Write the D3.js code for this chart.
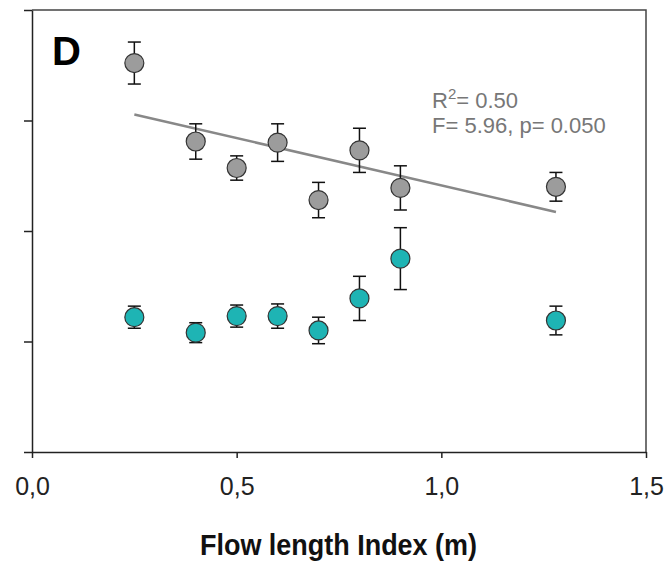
<!DOCTYPE html>
<html>
<head>
<meta charset="utf-8">
<script src="https://cdn.jsdelivr.net/npm/d3@7"></script>
<style>
  body { margin: 0; background: #fff; }
  text { font-family: "Liberation Sans", Arial, sans-serif; }
</style>
</head>
<body>
<svg id="chart"></svg>
<script>
// flow length index (m)
const flowLength = [0.25, 0.4, 0.5, 0.6, 0.7, 0.8, 0.9, 1.28];

// grey series (with fitted line)
const greyMean = [3.52, 2.81, 2.57, 2.8, 2.28, 2.73, 2.39, 2.4];
const greyErr = [0.19, 0.16, 0.11, 0.17, 0.16, 0.2, 0.2, 0.13];

// cyan series
const cyanMean = [1.22, 1.08, 1.23, 1.23, 1.1, 1.39, 1.75, 1.19];
const cyanErr = [0.1, 0.09, 0.1, 0.11, 0.12, 0.2, 0.28, 0.13];

const xTicks = [0, 0.5, 1.0, 1.5];
const yTicks = [0, 1, 2, 3, 4];

const W = 666, H = 563;
const plotLeft = 32, plotRight = 646, plotTop = 10, plotBottom = 452;

const svg = d3.select("#chart").attr("width", W).attr("height", H);
svg.append("rect").attr("width", W).attr("height", H).attr("fill", "#fff");

const xScale = d3.scaleLinear().domain([0, 1.5]).range([plotLeft, plotRight]);
const yScale = d3.scaleLinear().domain([0, 4]).range([plotBottom, plotTop]);

// frame top + right
svg.append("path")
  .attr("d", `M${plotLeft},${plotTop}H${plotRight}V${plotBottom}`)
  .attr("fill", "none")
  .attr("stroke", "#444")
  .attr("stroke-width", 1.5);

// y axis, no labels
const yAxis = svg.append("g")
  .attr("transform", `translate(${plotLeft},0)`)
  .call(d3.axisLeft(yScale).tickValues(yTicks).tickSize(8).tickSizeOuter(0).tickFormat(""));
yAxis.selectAll("path, line").attr("stroke", "#222").attr("stroke-width", 1.5);

// x axis
const fmt = (d) => d3.format(".1f")(d).replace(".", ",");
const xAxis = svg.append("g")
  .attr("transform", `translate(0,${plotBottom})`)
  .call(d3.axisBottom(xScale).tickValues(xTicks).tickSize(6).tickSizeOuter(0).tickFormat(fmt));
xAxis.selectAll("path, line").attr("stroke", "#222").attr("stroke-width", 1.5);
xAxis.selectAll("text")
  .attr("y", 43).attr("dy", 0)
  .attr("font-size", 25)
  .attr("fill", "#222")
  .style("font-family", "'Liberation Sans', Arial, sans-serif");

// linear fit of grey series
const mx = d3.mean(flowLength);
const my = d3.mean(greyMean);
const sxy = d3.sum(flowLength, (d, i) => (d - mx) * (greyMean[i] - my));
const sxx = d3.sum(flowLength, (d) => (d - mx) * (d - mx));
const slope = sxy / sxx;
const icpt = my - slope * mx;
const fitX = d3.extent(flowLength);

const line = d3.line()
  .x((d) => xScale(d))
  .y((d) => yScale(icpt + slope * d));

svg.append("path")
  .datum(fitX)
  .attr("d", line)
  .attr("fill", "none")
  .attr("stroke", "#888")
  .attr("stroke-width", 2.5);

const drawSeries = (means, errs, fill) => {
  const pts = flowLength.map((x, i) => ({ x: x, m: means[i], e: errs[i] }));
  const g = svg.append("g");
  const bars = g.selectAll(".eb").data(pts).enter().append("g")
    .attr("stroke", "#111").attr("stroke-width", 1.5);
  bars.append("line")
    .attr("x1", (d) => xScale(d.x)).attr("x2", (d) => xScale(d.x))
    .attr("y1", (d) => yScale(d.m - d.e)).attr("y2", (d) => yScale(d.m + d.e));
  bars.append("line")
    .attr("x1", (d) => xScale(d.x) - 6.5).attr("x2", (d) => xScale(d.x) + 6.5)
    .attr("y1", (d) => yScale(d.m + d.e)).attr("y2", (d) => yScale(d.m + d.e));
  bars.append("line")
    .attr("x1", (d) => xScale(d.x) - 6.5).attr("x2", (d) => xScale(d.x) + 6.5)
    .attr("y1", (d) => yScale(d.m - d.e)).attr("y2", (d) => yScale(d.m - d.e));
  g.selectAll("circle").data(pts).enter().append("circle")
    .attr("cx", (d) => xScale(d.x))
    .attr("cy", (d) => yScale(d.m))
    .attr("r", 9.5)
    .attr("fill", fill)
    .attr("stroke", "#333")
    .attr("stroke-width", 1.2);
};

drawSeries(greyMean, greyErr, "#9c9c9c");
drawSeries(cyanMean, cyanErr, "#1eb4b4");

// panel letter
svg.append("text")
  .attr("x", 52).attr("y", 65)
  .attr("font-size", 40).attr("font-weight", "bold")
  .attr("fill", "#000")
  .text("D");

// statistics
const stat = svg.append("g").attr("fill", "#777").attr("font-size", 22);
const r2 = stat.append("text").attr("x", 432).attr("y", 108);
r2.append("tspan").text("R");
r2.append("tspan").attr("font-size", 15).attr("dy", -9).text("2");
r2.append("tspan").attr("dy", 9).text("= 0.50");
stat.append("text").attr("x", 432).attr("y", 133).text("F= 5.96, p= 0.050");

// x title
svg.append("text")
  .attr("x", 200).attr("y", 555)
  .attr("font-size", 29).attr("font-weight", "bold")
  .attr("textLength", 277).attr("lengthAdjust", "spacingAndGlyphs")
  .attr("fill", "#111")
  .text("Flow length Index (m)");
</script>
</body>
</html>
